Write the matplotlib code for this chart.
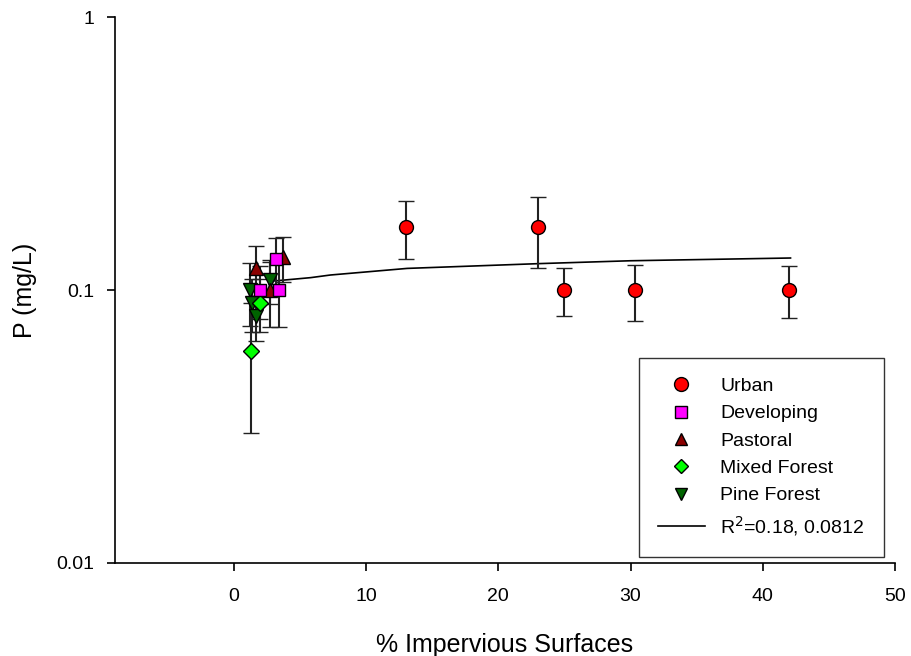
import matplotlib.pyplot as plt
from matplotlib.ticker import FixedLocator, NullLocator

plt.rcParams["font.family"] = ["Liberation Sans", "DejaVu Sans"]

# ---------------------------------------------------------------------------
# Data
# ---------------------------------------------------------------------------
urban_x = [13.0, 23.0, 25.0, 30.3, 42.0]
urban_y = [0.17, 0.17, 0.10, 0.10, 0.10]
urban_lo = [0.040, 0.050, 0.020, 0.023, 0.021]
urban_hi = [0.042, 0.050, 0.020, 0.023, 0.022]

dev_x = [2.0, 3.2, 3.4]
dev_y = [0.10, 0.13, 0.10]
dev_err = [0.022, 0.025, 0.027]

past_x = [1.7, 2.7, 3.7]
past_y = [0.12, 0.10, 0.132]
past_err = [0.025, 0.027, 0.025]

mixed_x = [1.3, 2.0]
mixed_y = [0.06, 0.09]
mixed_err = [0.03, 0.02]

pine_x = [1.2, 1.4, 1.7, 2.7]
pine_y = [0.10, 0.09, 0.08, 0.109]
pine_err = [0.026, 0.02, 0.015, 0.02]

fit_x = [3.1, 5.8, 7.3, 13.1, 23.2, 30.0, 42.1]
fit_y = [0.108, 0.111, 0.1135, 0.120, 0.125, 0.128, 0.131]

x_ticks = [0, 10, 20, 30, 40, 50]
y_ticks = [0.01, 0.1, 1]
y_tick_labels = ["0.01", "0.1", "1"]

# ---------------------------------------------------------------------------
# Plot
# ---------------------------------------------------------------------------
fig = plt.figure(figsize=(9.11, 6.56), dpi=100)
ax = fig.add_axes([0.1262, 0.1418, 0.8562, 0.8322])

eb_kw = dict(ecolor="#222222", elinewidth=1.5, capsize=6, capthick=1.5,
             linestyle="none", markeredgecolor="black", markeredgewidth=1.0)

ax.errorbar(pine_x, pine_y, yerr=pine_err, fmt="v", color="#006400",
            markersize=10, zorder=3, **eb_kw)
ax.errorbar(mixed_x, mixed_y, yerr=mixed_err, fmt="D", color="#00ff00",
            markersize=8, zorder=3, **eb_kw)
ax.errorbar(past_x, past_y, yerr=past_err, fmt="^", color="#8b0000",
            markersize=10, zorder=3, **eb_kw)
ax.errorbar(dev_x, dev_y, yerr=dev_err, fmt="s", color="#ff00ff",
            markersize=9, zorder=3, **eb_kw)
ax.errorbar(urban_x, urban_y, yerr=[urban_lo, urban_hi], fmt="o", color="#ff0000",
            markersize=10, zorder=3, **eb_kw)

ax.plot(fit_x, fit_y, color="black", linewidth=1.2, zorder=2)

# legend handles (markers only)
h_urban, = ax.plot([], [], "o", color="#ff0000", mec="black", ms=10, label="Urban")
h_dev, = ax.plot([], [], "s", color="#ff00ff", mec="black", ms=8, label="Developing")
h_past, = ax.plot([], [], "^", color="#8b0000", mec="black", ms=9, label="Pastoral")
h_mixed, = ax.plot([], [], "D", color="#00ff00", mec="black", ms=7, label="Mixed Forest")
h_pine, = ax.plot([], [], "v", color="#006400", mec="black", ms=9, label="Pine Forest")
h_fit, = ax.plot([], [], "-", color="black", lw=1.2, label="R$^2$=0.18, 0.0812")

leg = ax.legend(handles=[h_urban, h_dev, h_past, h_mixed, h_pine, h_fit],
                loc="upper right", bbox_to_anchor=(0.986, 0.3755), borderaxespad=0,
                fontsize=14, frameon=True, fancybox=False, edgecolor="black",
                borderpad=1.0, labelspacing=0.5, handlelength=2.4)
leg.get_frame().set_linewidth(1.0)

ax.set_yscale("log")
ax.set_ylim(0.01, 1)
ax.set_xlim(-9, 50)
ax.yaxis.set_major_locator(FixedLocator(y_ticks))
ax.yaxis.set_minor_locator(NullLocator())
ax.set_yticklabels(y_tick_labels)
ax.set_xticks(x_ticks)

ax.spines["top"].set_visible(False)
ax.spines["right"].set_visible(False)
ax.spines["left"].set_linewidth(1.2)
ax.spines["bottom"].set_linewidth(1.2)
ax.tick_params(axis="both", direction="out", length=6, width=1.2, labelsize=14)
ax.tick_params(axis="x", pad=12)
ax.tick_params(axis="y", pad=9)

ax.set_xlabel("% Impervious Surfaces", fontsize=18, labelpad=20)
ax.set_ylabel("P (mg/L)", fontsize=18, labelpad=14)

fig.savefig("out.png", dpi=100)
